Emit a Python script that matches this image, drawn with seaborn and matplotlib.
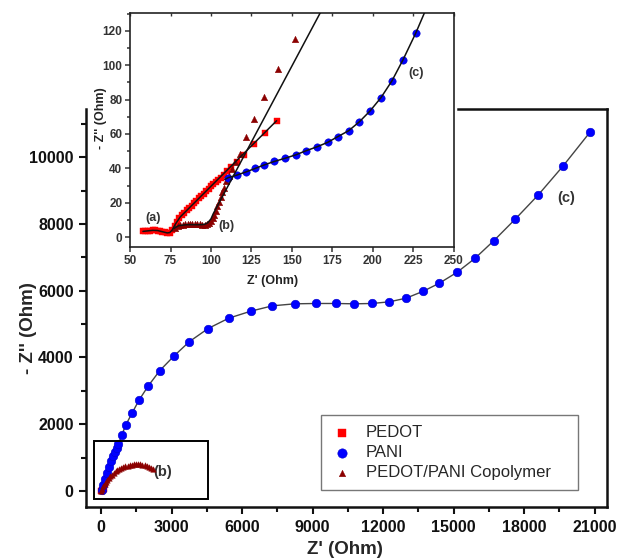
import matplotlib
matplotlib.use("Agg")
import matplotlib.pyplot as plt
from matplotlib.patches import Rectangle
from matplotlib.ticker import MultipleLocator
import seaborn as sns

# ---- main plot data (Ohm) ----
pedot_main_x = [0, 40, 80, 120]
pedot_main_y = [0, 15, 35, 60]

pani_main_x = [20, 90, 170, 250, 330, 410, 490, 580, 660, 737, 880, 1049, 1319, 1617,
               2014, 2497, 3106, 3759, 4553, 5432, 6369, 7291, 8240, 9134, 9987, 10782,
               11532, 12271, 12979, 13700, 14386, 15150, 15915, 16719, 17622, 18595,
               19657, 20810]
pani_main_y = [40, 190, 370, 545, 720, 890, 1040, 1180, 1300, 1402, 1672, 1973, 2333, 2723,
               3153, 3604, 4045, 4474, 4865, 5175, 5385, 5546, 5606, 5616, 5616, 5606,
               5616, 5666, 5775, 5980, 6220, 6550, 6970, 7500, 8140, 8860, 9730, 10750]

copo_main_x = [0, 50, 100, 150, 200, 260, 320, 390, 460, 540, 620, 700, 780, 860, 950,
               1040, 1130, 1220, 1310, 1400, 1490, 1580, 1670, 1760, 1850, 1940, 2030,
               2120, 2210]
copo_main_y = [0, 70, 140, 200, 260, 320, 380, 440, 490, 540, 585, 625, 660, 690, 718,
               742, 762, 778, 790, 798, 802, 803, 800, 792, 778, 758, 730, 695, 650]

# zoom box drawn on the main plot
zoom_box_x = (-300, 4550)
zoom_box_y = (-240, 1500)

# ---- inset data (Ohm) ----
pedot_in_x = [58, 59.5, 61, 62.5, 64, 65.5, 67, 68.5, 70, 71.5, 73, 74.5, 76, 77.5, 79,
              80.5, 82, 83.5, 85, 86.5, 88, 89.5, 91, 92.5, 94, 95.5, 97, 98.5, 100,
              101.5, 103, 104.5, 106, 108, 110, 112.5, 115.8, 120.4, 126.5, 133.1, 140.5]
pedot_in_y = [3.3, 3.4, 3.6, 3.8, 3.9, 3.9, 3.8, 3.5, 3.1, 2.7, 2.4, 2.6, 4.0, 6.5, 9.0,
              11.0, 12.7, 14.1, 15.5, 16.9, 18.3, 19.7, 21.1, 22.5, 23.9, 25.3, 26.7,
              28.1, 29.5, 30.9, 32.0, 33.2, 34.5, 36.3, 38.2, 40.5, 43.5, 47.8, 53.9,
              60.3, 67.7]
pedot_fit_x = [58, 61, 64, 67, 70, 73, 74.5, 76, 78, 81, 140.5]
pedot_fit_y = [3.3, 3.6, 3.9, 3.8, 3.1, 2.4, 2.6, 4.0, 7.5, 11.7, 67.7]

copo_in_x = [78, 79.5, 81, 82.5, 84, 85.5, 87, 88.5, 90, 91.5, 93, 94.5, 96, 97.5, 99,
             100, 101, 102, 103, 104, 105, 106, 107, 108, 109.5, 111, 113, 115, 117.9,
             121.6, 126.5, 132.9, 141.2, 151.6]
copo_in_y = [5.5, 6.2, 6.8, 7.2, 7.4, 7.6, 7.7, 7.7, 7.6, 7.5, 7.4, 7.3, 7.3, 7.6, 8.2,
             9.2, 11.0, 13.0, 15.3, 17.8, 20.5, 23.2, 26.0, 28.8, 32.5, 35.8, 39.5, 43.5,
             48.2, 58.0, 68.9, 81.7, 97.7, 115.2]
copo_fit_x = [77, 80, 85, 90, 94, 96, 98, 100, 101.4, 168]
copo_fit_y = [5.0, 6.6, 7.2, 7.2, 7.2, 7.4, 8.3, 10.6, 13.6, 131.5]

pani_in_x = [110.7, 115.8, 121.6, 127.2, 132.9, 139.1, 145.9, 152.5, 158.6, 165.4,
             172.0, 178.2, 185.0, 191.6, 198.1, 204.9, 211.7, 218.5, 226.3]
pani_in_y = [34.6, 36.0, 37.9, 39.9, 42.0, 44.0, 45.9, 47.9, 50.2, 52.5, 55.1, 58.4,
             61.9, 67.1, 73.3, 81.1, 90.9, 103.1, 118.5]
pani_fit_x = [108.5] + pani_in_x + [232]
pani_fit_y = [33.5] + pani_in_y + [131]

RED = "#ff0000"
BLUE = "#0000ff"
DARKRED = "#8b0000"

sns.set_style("ticks")
plt.rcParams["font.family"] = ["Liberation Sans", "DejaVu Sans"]

fig = plt.figure(figsize=(6.17, 5.6), dpi=100)

# ---------------- main axes ----------------
ax = fig.add_axes([0.1394, 0.0946, 0.8444, 0.7107])

sns.lineplot(x=pani_main_x, y=pani_main_y, sort=False, estimator=None,
             color="#444444", lw=1, ax=ax, legend=False)
sns.scatterplot(x=pedot_main_x, y=pedot_main_y, marker="s", s=14, color=RED,
                edgecolor=RED, linewidth=0.3, label="PEDOT", ax=ax, zorder=3)
sns.scatterplot(x=pani_main_x, y=pani_main_y, marker="o", s=38, color=BLUE,
                edgecolor="#0000cc", linewidth=0.4, label="PANI", ax=ax, zorder=3)
sns.scatterplot(x=copo_main_x, y=copo_main_y, marker="^", s=16, color=DARKRED,
                edgecolor=DARKRED, linewidth=0.3, label="PEDOT/PANI Copolymer", ax=ax,
                zorder=4)

ax.add_patch(Rectangle((zoom_box_x[0], zoom_box_y[0]), zoom_box_x[1] - zoom_box_x[0],
                       zoom_box_y[1] - zoom_box_y[0], fill=False, ec="black", lw=1.4,
                       zorder=5))

ax.set_xlim(-640, 21530)
ax.set_ylim(-480, 11440)
ax.xaxis.set_major_locator(MultipleLocator(3000))
ax.xaxis.set_minor_locator(MultipleLocator(1500))
ax.yaxis.set_major_locator(MultipleLocator(2000))
ax.yaxis.set_minor_locator(MultipleLocator(1000))
ax.tick_params(which="both", direction="out", width=1.5, colors="#111111")
ax.tick_params(which="major", length=5, labelsize=11.5, pad=4)
ax.tick_params(which="minor", length=3.5)
for lab in ax.get_xticklabels() + ax.get_yticklabels():
    lab.set_fontweight("bold")
for side in ["left", "bottom", "right", "top"]:
    ax.spines[side].set_linewidth(1.8)
    ax.spines[side].set_color("#111111")
ax.spines["top"].set_bounds(15190, 21530)

ax.set_xlabel("Z' (Ohm)", fontsize=13.5, fontweight="bold")
ax.set_ylabel("- Z'' (Ohm)", fontsize=13.5, fontweight="bold")
ax.xaxis.set_label_coords(0.497, -0.085)
ax.yaxis.set_label_coords(-0.094, 0.45)

ax.text(2640, 570, "(b)", fontsize=10.5, fontweight="bold", color="#333333",
        ha="center", va="center")
ax.text(19790, 8770, "(c)", fontsize=10.5, fontweight="bold", color="#333333",
        ha="center", va="center")

handles, labels = ax.get_legend_handles_labels()
leg = ax.legend(handles, labels, loc="lower left",
                bbox_to_anchor=(0.451, 0.0427, 0.493, 0.188), mode="expand",
                borderaxespad=0, fontsize=12, frameon=True, fancybox=False,
                labelspacing=0.3, handletextpad=0.8, borderpad=0.6, handlelength=1.3)
leg.get_frame().set_edgecolor("#555555")
leg.get_frame().set_linewidth(1.0)
for h, size in zip(leg.legend_handles, [30, 45, 22]):
    h.set_sizes([size])

# ---------------- inset axes ----------------
ins = fig.add_axes([0.2107, 0.5589, 0.5251, 0.4179])
ins.set_facecolor("white")

sns.scatterplot(x=pedot_in_x, y=pedot_in_y, marker="s", s=16, color=RED,
                edgecolor=RED, linewidth=0.3, ax=ins, zorder=3, legend=False)
sns.scatterplot(x=copo_in_x, y=copo_in_y, marker="^", s=22, color=DARKRED,
                edgecolor=DARKRED, linewidth=0.3, ax=ins, zorder=3, legend=False)
sns.scatterplot(x=pani_in_x, y=pani_in_y, marker="o", s=28, color=BLUE,
                edgecolor="#0000cc", linewidth=0.4, ax=ins, zorder=3, legend=False)
for fx, fy in [(pedot_fit_x, pedot_fit_y), (copo_fit_x, copo_fit_y),
               (pani_fit_x, pani_fit_y)]:
    sns.lineplot(x=fx, y=fy, sort=False, estimator=None, color="#111111", lw=1.1,
                 ax=ins, legend=False, zorder=4)

ins.set_xlim(50, 250)
ins.set_ylim(-5.8, 130.4)
ins.xaxis.set_major_locator(MultipleLocator(25))
ins.yaxis.set_major_locator(MultipleLocator(20))
ins.yaxis.set_minor_locator(MultipleLocator(10))
ins.tick_params(which="both", direction="out", width=1.1, colors="#333333")
ins.tick_params(which="major", length=3.5, labelsize=8.5, pad=2)
ins.tick_params(which="minor", length=2)
for lab in ins.get_xticklabels() + ins.get_yticklabels():
    lab.set_fontweight("bold")
for side in ["left", "bottom", "right", "top"]:
    ins.spines[side].set_linewidth(1.2)
    ins.spines[side].set_color("#222222")

# small inward ticks along the inset's top edge
top = ins.secondary_xaxis("top")
top.xaxis.set_major_locator(MultipleLocator(25))
top.tick_params(direction="in", length=2.5, width=1.0, colors="#333333",
                labeltop=False)
top.spines["top"].set_visible(False)

ins.set_xlabel("Z' (Ohm)", fontsize=9, fontweight="bold", color="#222222")
ins.set_ylabel("- Z'' (Ohm)", fontsize=9, fontweight="bold", color="#222222")
ins.xaxis.set_label_coords(0.44, -0.12)
ins.yaxis.set_label_coords(-0.072, 0.55)

ins.text(64, 11.3, "(a)", fontsize=9, fontweight="bold", color="#333333",
         ha="center", va="center")
ins.text(109.7, 6.5, "(b)", fontsize=9, fontweight="bold", color="#333333",
         ha="center", va="center")
ins.text(226.5, 95.3, "(c)", fontsize=9, fontweight="bold", color="#333333",
         ha="center", va="center")

fig.savefig("out.png", dpi=100)
